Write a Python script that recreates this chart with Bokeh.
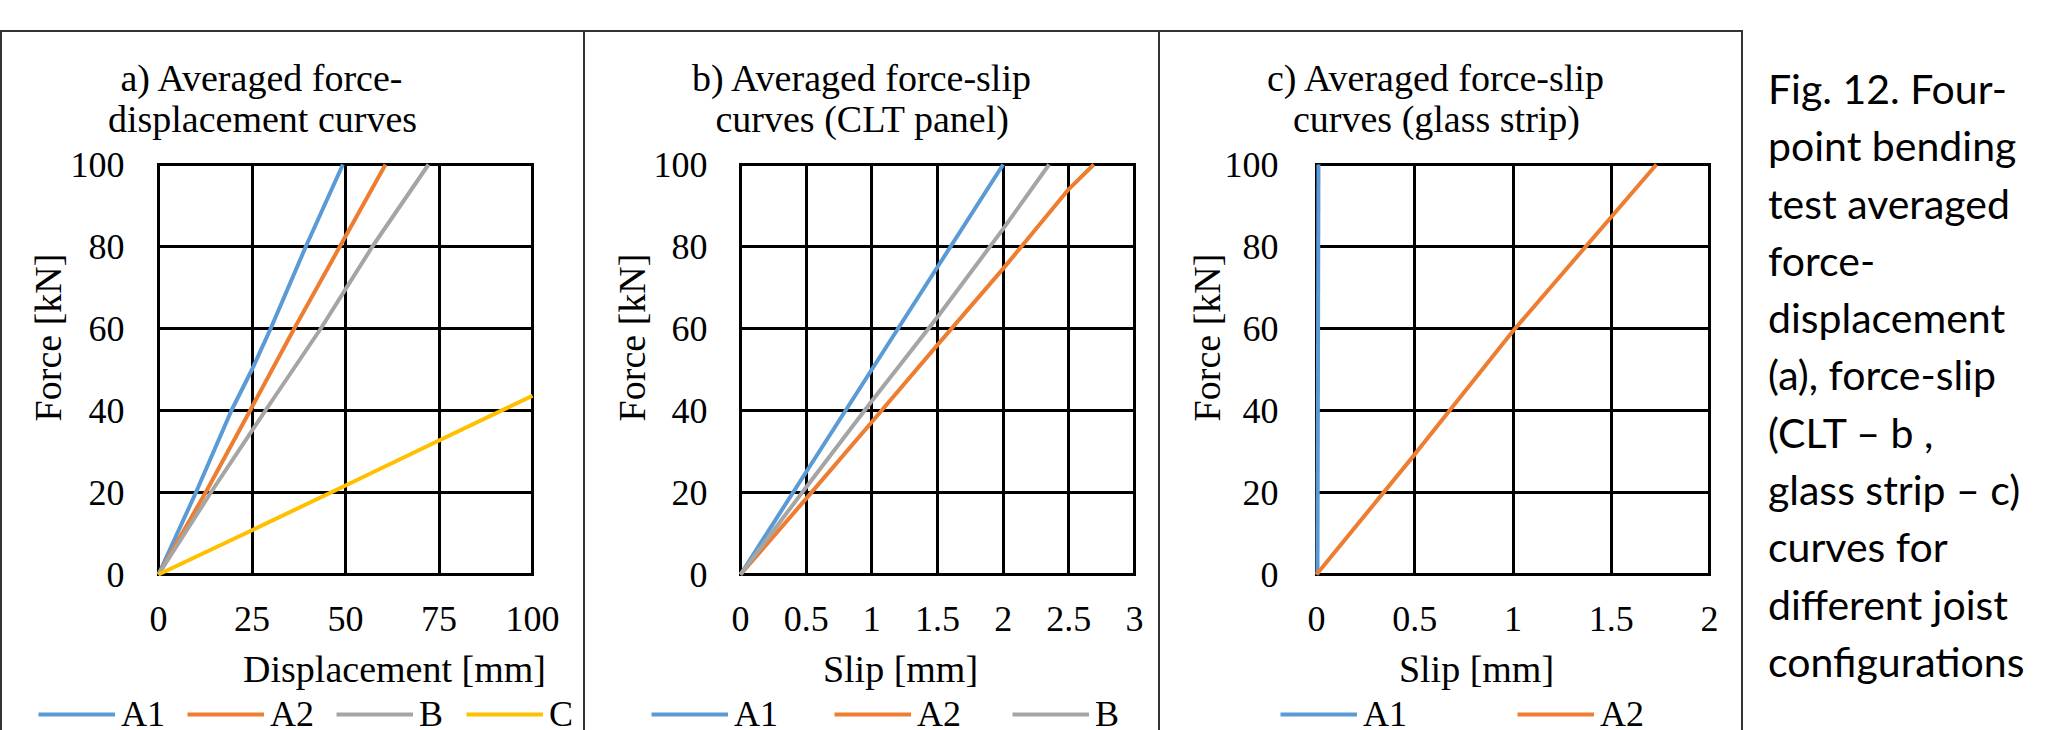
import math
import html
from bokeh.plotting import figure
from bokeh.models import (Range1d, FixedTicker, NumeralTickFormatter, Legend, LegendItem,
                          Label, Div)
from bokeh.layouts import row
from bokeh.core.properties import value
from bokeh.embed import file_html
from bokeh.resources import INLINE

# ---------------- data ----------------
FORCE_TICKS = [0, 20, 40, 60, 80, 100]
A_TICKS = [0, 25, 50, 75, 100]
B_TICKS = [0, 0.5, 1, 1.5, 2, 2.5, 3]
C_TICKS = [0, 0.5, 1, 1.5, 2]

A_A1_X = [0, 10, 19.5, 25, 30, 39.4, 49.3]
A_A1_Y = [0, 20, 40, 50, 60, 80, 100]
A_A2_X = [0, 12.6, 24.5, 36.3, 48.5, 60.7]
A_A2_Y = [0, 20, 40, 60, 80, 100]
A_B_X = [0, 14.0, 28.6, 43.4, 57.2, 72.2]
A_B_Y = [0, 20, 40, 60, 80, 100]
A_C_X = [0, 25, 50, 75, 100]
A_C_Y = [0, 10.8, 21.7, 32.7, 43.6]

B_A1_X = [0, 0.5, 1, 1.5, 2]
B_A1_Y = [0, 25, 50, 75, 100]
B_A2_X = [0, 0.5, 1, 1.5, 2, 2.5, 2.69]
B_A2_Y = [0, 18.5, 37.2, 56, 74.6, 94, 100]
B_B_X = [0, 0.5, 1, 1.5, 2, 2.35]
B_B_Y = [0, 21.3, 42.3, 62.8, 84.3, 100]

C_A1_X = [0.005, 0.01]
C_A1_Y = [0, 100]
C_A2_X = [0, 0.5, 1, 1.5, 1.73]
C_A2_Y = [0, 29.3, 59.4, 87.2, 100]

CAPTION = ["Fig. 12. Four-", "point bending", "test averaged", "force-",
           "displacement", "(a), force-slip", "(CLT \u2013 b ,", "glass strip \u2013 c)",
           "curves for", "different joist", "configurations"]

# ---------------- style / layout (pixels of the page) ----------------
COLORS = {"A1": "#5B9BD5", "A2": "#ED7D31", "B": "#A5A5A5", "C": "#FFC000"}
SERIF = "Liberation Serif"
FS_TICK = "36px"
FS_TEXT = "38px"
EDGE = "#333333"

TOP = 30            # page y of the panel tops
FIG_H = 700
AREA_TOP = 164      # page y of force = 100
AREA_BOT = 574      # page y of force = 0
BASE_FIX = 10       # alphabetic labels render this much low
TITLE_Y = (87, 128)
XLAB_Y = 678
YLAB_Y = 337
LEG_CY = 715
LEG_H = 40

PANELS = [
    dict(fig_x=0, width=583, area_l=158, area_r=532, xmax=100, ticks=A_TICKS, fmt="0",
         title=("a) Averaged force-", "displacement curves"), title_cx=262,
         xlab="Displacement [mm]", xlab_cx=394, ylab_cx=47, ystand=34,
         series=[("A1", A_A1_X, A_A1_Y, 38), ("A2", A_A2_X, A_A2_Y, 187),
                 ("B", A_B_X, A_B_Y, 336), ("C", A_C_X, A_C_Y, 466)]),
    dict(fig_x=583, width=575, area_l=740, area_r=1134, xmax=3, ticks=B_TICKS, fmt="0.[0]",
         title=("b) Averaged force-slip", "curves (CLT panel)"), title_cx=862,
         xlab="Slip [mm]", xlab_cx=900, ylab_cx=631, ystand=33,
         series=[("A1", B_A1_X, B_A1_Y, 651), ("A2", B_A2_X, B_A2_Y, 834),
                 ("B", B_B_X, B_B_Y, 1012)]),
    dict(fig_x=1158, width=583, area_l=1316, area_r=1709, xmax=2, ticks=C_TICKS, fmt="0.[0]",
         title=("c) Averaged force-slip", "curves (glass strip)"), title_cx=1436,
         xlab="Slip [mm]", xlab_cx=1476, ylab_cx=1206, ystand=38,
         series=[("A1", C_A1_X, C_A1_Y, 1280), ("A2", C_A2_X, C_A2_Y, 1517)]),
]


def make_panel(P):
    fx, W = P["fig_x"], P["width"]
    aw = P["area_r"] - P["area_l"]
    xmax = P["xmax"]

    def dx(px):
        return (px - P["area_l"]) / aw * xmax

    def dy(py):
        return (AREA_BOT - py) / (AREA_BOT - AREA_TOP) * 100

    # ranges chosen so that the whole canvas is the frame and the
    # plotting box sits where it does in the original figure
    x_range = Range1d(dx(fx), dx(fx + W))
    y_range = Range1d(dy(TOP + FIG_H), dy(TOP))

    p = figure(width=W, height=FIG_H, output_backend="svg", toolbar_location=None,
               x_range=x_range, y_range=y_range, min_border=0,
               margin=(TOP, 0, 0, 0),
               styles={"box-shadow": f"inset 2px 2px 0 0 {EDGE}"})
    p.background_fill_color = None
    p.border_fill_color = None
    p.outline_line_color = None

    xa, ya = p.xaxis[0], p.yaxis[0]
    for ax in (xa, ya):
        ax.axis_line_color = None
        ax.major_tick_in = 0
        ax.major_tick_out = 0
        ax.minor_tick_line_color = None
        ax.major_label_text_font = SERIF
        ax.major_label_text_font_size = FS_TICK
        ax.major_label_text_color = "black"
        ax.fixed_location = 0
    xa.ticker = FixedTicker(ticks=P["ticks"])
    xa.formatter = NumeralTickFormatter(format=P["fmt"])
    xa.major_label_standoff = 32
    xa.bounds = (0, xmax)
    ya.ticker = FixedTicker(ticks=FORCE_TICKS)
    ya.formatter = NumeralTickFormatter(format="0")
    ya.major_label_standoff = P["ystand"]
    ya.bounds = (0, 100)

    xg, yg = p.xgrid[0], p.ygrid[0]
    xg.ticker = FixedTicker(ticks=P["ticks"])
    yg.ticker = FixedTicker(ticks=FORCE_TICKS)
    has_cross = "cross_bounds" in xg.properties()
    xg.bounds = (0, xmax)
    yg.bounds = (0, 100)
    if has_cross:
        xg.cross_bounds = (0, 100)
        yg.cross_bounds = (0, xmax)
        for g in (xg, yg):
            g.grid_line_color = "black"
            g.grid_line_width = 3
            g.grid_line_alpha = 1.0
            g.grid_line_cap = "square"
    else:
        xg.visible = False
        yg.visible = False
        xt = P["ticks"]
        p.segment(x0=xt, y0=[0] * len(xt), x1=xt, y1=[100] * len(xt),
                  line_color="black", line_width=3, line_cap="square")
        p.segment(x0=[0] * len(FORCE_TICKS), y0=FORCE_TICKS, x1=[xmax] * len(FORCE_TICKS),
                  y1=FORCE_TICKS, line_color="black", line_width=3, line_cap="square")

    for name, xs, ys, lx in P["series"]:
        r = p.line(xs, ys, line_color=COLORS[name], line_width=4)
        leg = Legend(items=[LegendItem(label=value(name), renderers=[r])],
                     location=(lx - fx, (TOP + FIG_H - LEG_CY) - LEG_H / 2),
                     orientation="horizontal", glyph_width=77, glyph_height=20,
                     label_standoff=6, padding=0, margin=0, spacing=0,
                     border_line_color=None, background_fill_alpha=0,
                     label_text_font=SERIF, label_text_font_size=FS_TICK,
                     label_text_color="black")
        p.add_layout(leg)

    for t, ty in zip(P["title"], TITLE_Y):
        p.add_layout(Label(x=dx(P["title_cx"]), y=dy(ty - BASE_FIX), text=t,
                           text_align="center", text_baseline="alphabetic",
                           text_font=SERIF, text_font_size=FS_TEXT, text_color="black"))
    p.add_layout(Label(x=dx(P["xlab_cx"]), y=dy(XLAB_Y - BASE_FIX), text=P["xlab"],
                       text_align="center", text_baseline="alphabetic",
                       text_font=SERIF, text_font_size=FS_TEXT, text_color="black"))
    p.add_layout(Label(x=dx(P["ylab_cx"]), y=dy(YLAB_Y), text="Force [kN]",
                       angle=math.pi / 2, text_align="center", text_baseline="middle",
                       text_font=SERIF, text_font_size=FS_TEXT, text_color="black"))
    return p


panels = [make_panel(P) for P in PANELS]

caption_html = "<br>".join(html.escape(t) for t in CAPTION)
caption = Div(
    text=('<div style="font-family: Lato; font-size: 41px; line-height: 57.3px; color: #000;'
          ' padding: 30px 0 0 27px; white-space: nowrap;">' + caption_html + '</div>'),
    width=319, height=FIG_H, margin=(TOP, 0, 0, 0),
    styles={"box-shadow": f"inset 2px 0 0 0 {EDGE}"})

layout = row(*panels, caption, spacing=0)
open("out.html", "w").write(file_html(layout, INLINE))
